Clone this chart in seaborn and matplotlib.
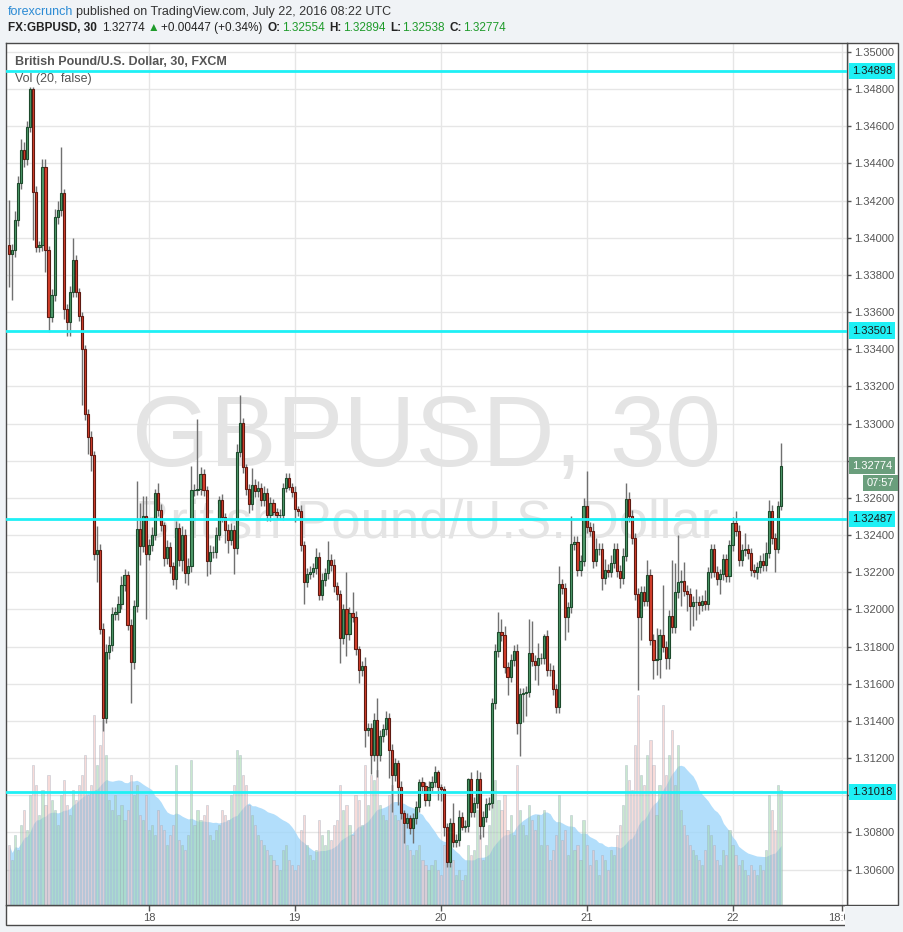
import numpy as np
import pandas as pd
import seaborn as sns
import matplotlib.pyplot as plt
from matplotlib.patches import Rectangle

# ---- data (30 min GBPUSD bars) ----
first_open = 1.33961
closes = [
    1.33913, 1.33934, 1.34096, 1.34293, 1.34473, 1.34422, 1.34598, 1.34799, 1.34248, 1.33952,
    1.33961, 1.34383, 1.33934, 1.33575, 1.33692, 1.34114, 1.34150, 1.34240, 1.33615, 1.33549,
    1.33710, 1.33880, 1.33710, 1.33581, 1.33402, 1.33050, 1.32929, 1.32833, 1.32297, 1.32321,
    1.31897, 1.31417, 1.31772, 1.31808, 1.31975, 1.31985, 1.32031, 1.32129, 1.32185, 1.31917,
    1.31718, 1.32018, 1.32431, 1.32341, 1.32503, 1.32298, 1.32347, 1.32401, 1.32628, 1.32535,
    1.32453, 1.32275, 1.32334, 1.32234, 1.32162, 1.32436, 1.32266, 1.32401, 1.32194, 1.32234,
    1.32640, 1.32645, 1.32647, 1.32727, 1.32643, 1.32262, 1.32307, 1.32309, 1.32401, 1.32589,
    1.32500, 1.32428, 1.32374, 1.32426, 1.32329, 1.32849, 1.33002, 1.32765, 1.32646, 1.32567,
    1.32670, 1.32637, 1.32652, 1.32589, 1.32625, 1.32508, 1.32574, 1.32526, 1.32508, 1.32510,
    1.32652, 1.32705, 1.32661, 1.32634, 1.32539, 1.32531, 1.32347, 1.32150, 1.32191, 1.32203,
    1.32221, 1.32280, 1.32078, 1.32158, 1.32194, 1.32266, 1.32239, 1.32126, 1.32083, 1.31844,
    1.32000, 1.31868, 1.31982, 1.31960, 1.31785, 1.31674, 1.31695, 1.31351, 1.31360, 1.31216,
    1.31405, 1.31216, 1.31319, 1.31355, 1.31414, 1.31243, 1.31109, 1.31172, 1.31046, 1.30902,
    1.30852, 1.30875, 1.30822, 1.30875, 1.30938, 1.31069, 1.31049, 1.30974, 1.31046, 1.31073,
    1.31127, 1.31042, 1.31031, 1.30831, 1.30642, 1.30849, 1.30750, 1.30759, 1.30881, 1.30831,
    1.30834, 1.31085, 1.30911, 1.30960, 1.31085, 1.30834, 1.30884, 1.30953, 1.30960, 1.31494,
    1.31776, 1.31876, 1.31862, 1.31688, 1.31638, 1.31728, 1.31776, 1.31390, 1.31545, 1.31548,
    1.31557, 1.31767, 1.31724, 1.31701, 1.31737, 1.31737, 1.31857, 1.31674, 1.31672, 1.31570,
    1.31473, 1.32135, 1.32113, 1.31957, 1.32011, 1.32352, 1.32365, 1.32212, 1.32262, 1.32557,
    1.32442, 1.32424, 1.32262, 1.32323, 1.32325, 1.32167, 1.32212, 1.32203, 1.32252, 1.32327,
    1.32207, 1.32167, 1.32289, 1.32592, 1.32503, 1.32383, 1.32083, 1.31957, 1.32096, 1.32047,
    1.32185, 1.31836, 1.31728, 1.31731, 1.31862, 1.31800, 1.31737, 1.31965, 1.31904, 1.32092,
    1.32150, 1.32153, 1.32101, 1.32083, 1.32020, 1.32042, 1.32042, 1.32024, 1.32047, 1.32029,
    1.32200, 1.32323, 1.32203, 1.32162, 1.32189, 1.32270, 1.32180, 1.32345, 1.32467, 1.32424,
    1.32266, 1.32320, 1.32323, 1.32302, 1.32212, 1.32203, 1.32226, 1.32262, 1.32239, 1.32305,
    1.32531, 1.32382, 1.32323, 1.32554, 1.32774,
]
# wick length beyond the body, in pips
upper_wick = [
    24, 3, 5, 4, 6, 4, 3, 1, 1, 3, 2, 4, 4, 2, 3, 4, 5, 25, 2, 3,
    3, 12, 3, 2, 2, 2, 3, 3, 2, 13, 3, 3, 4, 5, 4, 3, 4, 5, 3, 2,
    3, 3, 26, 14, 11, 11, 3, 4, 2, 5, 3, 2, 4, 3, 2, 4, 3, 5, 3, 4,
    13, 3, 38, 4, 3, 2, 4, 3, 4, 2, 3, 2, 3, 4, 3, 4, 15, 3, 2, 3,
    9, 3, 4, 3, 4, 3, 3, 2, 2, 3, 3, 3, 3, 2, 3, 2, 3, 2, 3, 3,
    3, 5, 3, 4, 3, 10, 3, 3, 2, 2, 3, 20, 3, 11, 3, 2, 3, 5, 3, 3,
    4, 12, 3, 3, 4, 3, 3, 3, 2, 3, 2, 3, 2, 3, 3, 2, 3, 2, 3, 3,
    3, 1, 2, 2, 2, 3, 11, 3, 4, 3, 3, 1, 4, 3, 5, 4, 3, 3, 3, 3,
    4, 11, 7, 5, 3, 3, 3, 4, 3, 3, 3, 18, 17, 3, 8, 3, 1, 3, 4, 3,
    3, 10, 3, 3, 3, 15, 3, 3, 3, 4, 19, 3, 4, 6, 3, 3, 6, 3, 4, 3,
    3, 3, 4, 9, 4, 3, 3, 3, 3, 3, 8, 3, 3, 17, 3, 27, 3, 3, 30, 16,
    25, 6, 10, 3, 3, 3, 7, 3, 3, 6, 3, 3, 3, 3, 3, 3, 3, 3, 3, 6,
    3, 3, 9, 3, 3, 3, 3, 3, 4, 6, 6, 3, 3, 3, 12,
]
lower_wick = [
    18, 25, 4, 3, 3, 4, 3, 3, 26, 3, 3, 3, 12, 8, 3, 3, 4, 3, 5, 8,
    8, 3, 3, 3, 30, 3, 9, 9, 3, 15, 3, 7, 3, 4, 3, 3, 4, 3, 3, 3,
    22, 4, 3, 10, 3, 35, 3, 3, 3, 3, 3, 4, 3, 4, 3, 5, 3, 6, 5, 6,
    3, 3, 3, 3, 3, 8, 7, 3, 3, 3, 3, 7, 7, 3, 14, 3, 3, 3, 3, 5,
    3, 3, 3, 3, 3, 3, 3, 2, 2, 2, 3, 2, 2, 3, 7, 3, 3, 12, 3, 3,
    3, 3, 3, 3, 3, 3, 3, 3, 3, 13, 3, 12, 3, 3, 3, 7, 3, 9, 3, 10,
    3, 12, 3, 3, 3, 15, 20, 3, 10, 3, 11, 3, 3, 8, 3, 3, 3, 3, 3, 3,
    3, 7, 6, 5, 3, 3, 3, 3, 3, 2, 3, 3, 3, 3, 3, 7, 6, 3, 3, 3,
    3, 3, 3, 3, 10, 3, 3, 6, 18, 15, 12, 3, 3, 8, 11, 3, 3, 3, 3, 3,
    3, 3, 3, 12, 8, 3, 3, 3, 3, 3, 3, 3, 4, 3, 3, 6, 3, 3, 3, 3,
    3, 5, 3, 3, 3, 3, 3, 39, 12, 3, 3, 3, 10, 8, 10, 3, 6, 6, 3, 3,
    3, 13, 3, 9, 13, 11, 10, 5, 3, 3, 3, 3, 3, 3, 8, 3, 3, 3, 3, 3,
    3, 3, 3, 3, 3, 3, 4, 3, 3, 3, 3, 3, 12, 2, 2,
]
volumes = [
    60, 45, 70, 55, 80, 95, 75, 110, 140, 120, 90, 115, 100, 130, 105, 95, 80, 110, 125, 100,
    90, 115, 105, 120, 130, 150, 110, 120, 190, 140, 160, 185, 150, 105, 95, 110, 90, 100, 85, 95,
    130, 110, 120, 90, 85, 110, 75, 80, 70, 95, 80, 75, 60, 70, 80, 140, 65, 60, 55, 70,
    145, 80, 95, 85, 90, 100, 70, 65, 75, 80, 95, 90, 85, 110, 120, 155, 150, 130, 120, 100,
    90, 80, 70, 65, 60, 55, 50, 45, 40, 35, 55, 60, 45, 40, 35, 40, 75, 90, 60, 50,
    45, 55, 85, 70, 60, 75, 65, 80, 85, 120, 95, 100, 80, 70, 110, 105, 80, 140, 100, 130,
    125, 135, 100, 90, 85, 110, 120, 90, 85, 95, 80, 60, 55, 50, 55, 60, 45, 40, 35, 40,
    45, 35, 30, 60, 75, 55, 45, 30, 35, 25, 30, 60, 50, 55, 95, 70, 45, 60, 80, 160,
    125, 105, 95, 110, 75, 90, 70, 140, 95, 80, 70, 100, 85, 75, 90, 60, 95, 60, 45, 55,
    70, 110, 65, 75, 50, 90, 55, 60, 45, 85, 60, 40, 55, 45, 30, 50, 45, 35, 55, 50,
    70, 80, 100, 140, 125, 115, 160, 210, 130, 120, 150, 165, 140, 90, 120, 200, 130, 150, 175, 120,
    160, 95, 80, 70, 60, 55, 50, 45, 40, 55, 80, 70, 60, 45, 40, 55, 50, 75, 60, 50,
    40, 45, 35, 30, 40, 35, 30, 40, 35, 55, 110, 95, 75, 120, 115,
]
day_ticks = [46, 94, 142, 190, 238, 274]
day_labels = ["18", "19", "20", "21", "22", "18:00"]
levels = [1.34898, 1.33501, 1.32487, 1.31018]
price_ticks = np.arange(1.306, 1.3501, 0.002)

df = pd.DataFrame({"close": closes, "up_w": upper_wick, "lo_w": lower_wick, "volume": volumes})
df["bar"] = np.arange(len(df))
df["open"] = df["close"].shift(1).fillna(first_open)
df["top"] = df[["open", "close"]].max(axis=1)
df["bot"] = df[["open", "close"]].min(axis=1)
df["high"] = df["top"] + df["up_w"] * 1e-4
df["low"] = df["bot"] - df["lo_w"] * 1e-4
df["dir"] = np.where(df["close"] >= df["open"], "up", "down")
df["ma"] = df["volume"].rolling(20, min_periods=1).mean()

sns.set_theme(style="white")
plt.rcParams["font.family"] = ["Liberation Sans", "DejaVu Sans"]

W, H = 904, 932
fig = plt.figure(figsize=(W / 100, H / 100), dpi=100)
fig.patch.set_facecolor("#f0f3f6")


def rect(x0, y0, x1, y1):
    return [x0 / W, (H - y1) / H, (x1 - x0) / W, (y1 - y0) / H]


frame = "#4a4a4a"
# price scale and time scale panels
fig.add_artist(Rectangle((847 / W, (H - 905) / H), 51 / W, 862 / H, transform=fig.transFigure,
                         facecolor="white", edgecolor=frame, lw=1, zorder=-2))
fig.add_artist(Rectangle((6 / W, (H - 925) / H), 841 / W, 20 / H, transform=fig.transFigure,
                         facecolor="white", edgecolor=frame, lw=1, zorder=-2))

main_rect = rect(6, 43, 847, 905)
ax_bg = fig.add_axes(main_rect)
ax_vol = fig.add_axes(main_rect, sharex=ax_bg)
ax = fig.add_axes(main_rect, sharex=ax_bg, sharey=ax_bg)

xlim = (-0.99, 275.66)
ylim = (1.304091, 1.350484)

# background: grid + watermark
ax_bg.set_facecolor("white")
ax_bg.set_xlim(*xlim)
ax_bg.set_ylim(*ylim)
ax_bg.grid(True, color="#e6e6e6", lw=1)
for s in ax_bg.spines.values():
    s.set_visible(False)
ax_bg.text(0.5, 0.54, "GBPUSD, 30", transform=ax_bg.transAxes, ha="center", va="center",
           fontsize=72, color="#e4e4e4")
ax_bg.text(0.5, 0.442, "British Pound/U.S. Dollar", transform=ax_bg.transAxes, ha="center",
           va="center", fontsize=38, color="#e4e4e4")

# volume + MA(20) area
ax_vol.patch.set_visible(False)
ax_vol.fill_between(df["bar"], df["ma"], color="#9fd6fa", alpha=0.8, lw=0, zorder=1)
sns.barplot(data=df, x="bar", y="volume", hue="dir", native_scale=True, width=0.7,
            palette={"up": "#a6d9b0", "down": "#f2c3c0"}, errorbar=None, legend=False,
            saturation=1, alpha=0.6, edgecolor="#9aa9b8", linewidth=0.4, ax=ax_vol, zorder=2)
ax_vol.set_ylim(0, 862)
ax_vol.set_xlim(*xlim)
ax_vol.axis("off")

# candles
ax.patch.set_visible(False)
ax.vlines(df["bar"], df["low"], df["high"], color="#707070", lw=1, zorder=2)
body_col = np.where(df["dir"] == "up", "#4f9c6c", "#d6402c")
edge_col = np.where(df["dir"] == "up", "#1d4a2c", "#5e1a12")
ax.bar(df["bar"], df["top"] - df["bot"], bottom=df["bot"], width=0.72, color=body_col,
       edgecolor=edge_col, lw=0.8, zorder=3)

for lv in levels:
    ax.axhline(lv, color="#1ef0f5", lw=2, zorder=4)
    ax.annotate(f"{lv:.5f}", xy=(1, lv), xycoords=ax.get_yaxis_transform(), xytext=(3.5, 0),
                textcoords="offset points", ha="left", va="center", fontsize=8, color="#1a1a1a",
                bbox=dict(boxstyle="square,pad=0.3", fc="#1ef0f5", ec="none"),
                annotation_clip=False, zorder=6)

last = df["close"].iloc[-1]
ax.annotate(f"{last:.5f}", xy=(1, last), xycoords=ax.get_yaxis_transform(), xytext=(3.5, 0),
            textcoords="offset points", ha="left", va="center", fontsize=8, color="white",
            bbox=dict(boxstyle="square,pad=0.3", fc="#6a9e7c", ec="none"),
            annotation_clip=False, zorder=6)
ax.annotate("07:57", xy=(1, last), xycoords=ax.get_yaxis_transform(), xytext=(34, -12.5),
            textcoords="offset points", ha="right", va="center", fontsize=8, color="white",
            bbox=dict(boxstyle="square,pad=0.3", fc="#6a9e7c", ec="none"),
            annotation_clip=False, zorder=6)

# tick labels that sit under the price boxes are hidden, as on the original scale
covered = [last] + levels
tick_labels = [f"{v:.5f}" if min(abs(v - c) for c in covered) > 0.0004 else "" for v in price_ticks]

ax.set_xlim(*xlim)
ax.set_ylim(*ylim)
ax.set_xticks(day_ticks, day_labels)
ax.set_yticks(price_ticks, tick_labels)
ax.yaxis.tick_right()
ax.tick_params(axis="y", right=True, length=3, width=1, color="#555555", labelsize=8,
               labelcolor="#555555", pad=2)
ax.tick_params(axis="x", bottom=True, length=4, width=1, color="#555555", labelsize=8,
               labelcolor="#555555", pad=2)
ax_bg.tick_params(labelbottom=False, labelleft=False, bottom=False, left=False)
for s in ax.spines.values():
    s.set_color(frame)
    s.set_linewidth(1)
ax.set_xlabel("")
ax.set_ylabel("")

ax.text(0.0107, 0.9785, "British Pound/U.S. Dollar, 30, FXCM", transform=ax.transAxes,
        fontsize=9, color="#555555", fontweight="bold", va="center")
ax.text(0.0107, 0.9585, "Vol (20, false)", transform=ax.transAxes, fontsize=9, color="#555555",
        va="center")

# hide the part of the last time label past the time panel
fig.add_artist(Rectangle((845 / W, 0), 59 / W, (H - 906) / H, transform=fig.transFigure,
                         facecolor="#f0f3f6", edgecolor="none", zorder=5))

# header, laid out piece by piece
renderer = fig.canvas.get_renderer()
green = "#1f9b2b"


def header_line(y, pieces, size):
    x = 8
    for s, color, weight, gap in pieces:
        t = fig.text(x / W, 1 - y / H, s, ha="left", va="center", fontsize=size, color=color,
                     fontweight=weight)
        x += t.get_window_extent(renderer).width + gap


header_line(12, [("forexcrunch", "#2a8ad4", "normal", 3),
                 ("published on TradingView.com, July 22, 2016 08:22 UTC", "#333333", "normal", 0)],
            9)
header_line(28, [("FX:GBPUSD, 30", "#222222", "bold", 5),
                 ("1.32774", "#222222", "normal", 3),
                 ("▲", green, "normal", 2),
                 ("+0.00447 (+0.34%)", "#222222", "normal", 5),
                 ("O:", "#222222", "bold", 1), ("1.32554", green, "normal", 5),
                 ("H:", "#222222", "bold", 1), ("1.32894", green, "normal", 5),
                 ("L:", "#222222", "bold", 1), ("1.32538", green, "normal", 5),
                 ("C:", "#222222", "bold", 1), ("1.32774", green, "normal", 0)],
            8.5)

fig.savefig("out.png", dpi=100, facecolor=fig.get_facecolor())
